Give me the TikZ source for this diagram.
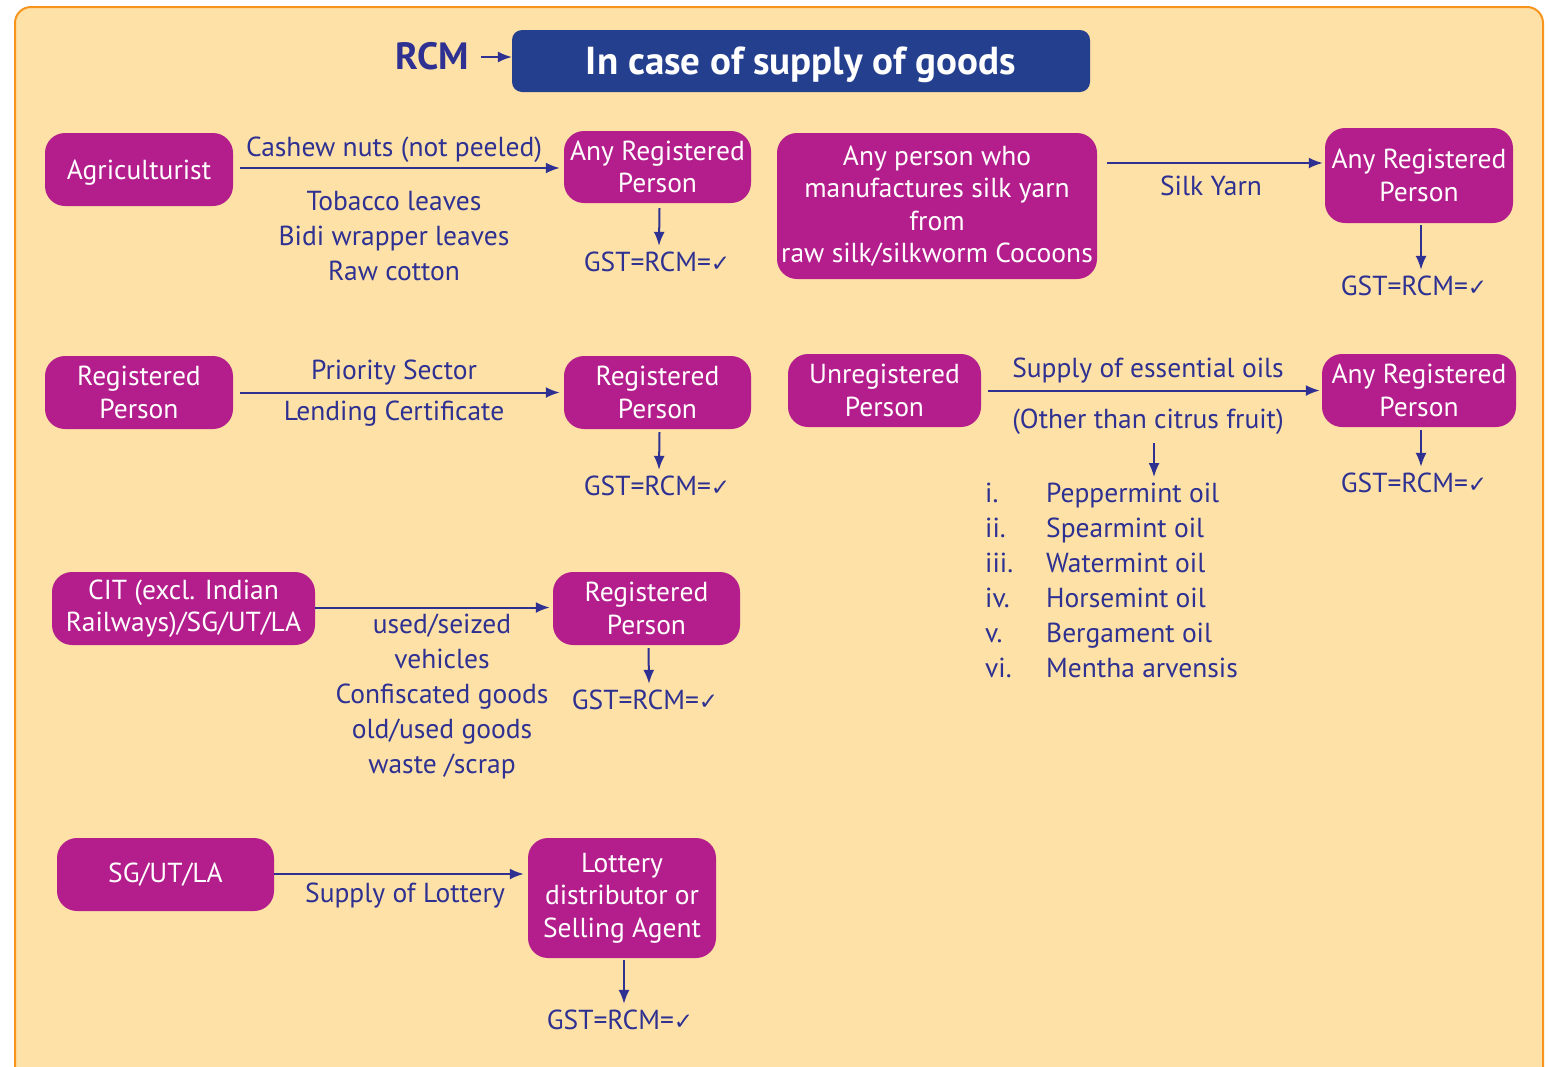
\documentclass[tikz,border=0pt]{standalone}
\usepackage{fontspec}
\setmainfont{PT Sans}
\newfontfamily\symfont{DejaVu Sans}
\usetikzlibrary{arrows.meta}
\definecolor{bgpeach}{HTML}{FDE1A7}
\definecolor{frameorange}{HTML}{F7941D}
\definecolor{boxmag}{HTML}{B41E8C}
\definecolor{titlenavy}{HTML}{253F8F}
\definecolor{inkblue}{HTML}{2E3192}
\newcommand{\tick}{{\symfont\fontsize{23}{26}\selectfont ✓}}
\tikzset{
  box/.style={fill=boxmag, rounded corners=20pt, text=white, align=center,
    inner sep=0pt, font=\fontsize{27.5}{32.5}\selectfont},
  lbl/.style={text=inkblue, align=center, inner sep=0pt,
    font=\fontsize{27.5}{35}\selectfont},
  gst/.style={text=inkblue, inner sep=0pt, font=\fontsize{27.5}{32}\selectfont},
  arr/.style={draw=inkblue, line width=2pt, -{Latex[length=14pt,width=11pt]}},
}
\begin{document}
\begin{tikzpicture}[x=1pt,y=-1pt]
\useasboundingbox (0,0) rectangle (1548,1066);
\clip (0,0) rectangle (1548,1066);
% panel
\draw[fill=bgpeach, draw=frameorange, line width=2pt, rounded corners=16pt]
  (15,7) rectangle (1543,1090);

% heading
\node[fill=titlenavy, rounded corners=10pt, minimum width=578, minimum height=62,
  inner sep=0pt, text depth=0pt, text=white, font=\fontsize{39}{42}\selectfont\bfseries]
  (title) at (801,61) {In case of supply of goods};
\node[text=inkblue, inner sep=0pt, font=\fontsize{38}{42}\selectfont\bfseries]
  (rcm) at (432,56) {RCM};
\draw[arr, line width=1.6pt] ([xshift=12]rcm.east |- 0,57) -- (title.west |- 0,57);

% row 1 left: agriculturist
\node[box, text depth=0pt, minimum width=188, minimum height=73] (agri) at (139,169.5) {Agriculturist};
\node[box, minimum width=187, minimum height=72] (arp1) at (657.5,167) {Any Registered\\Person};
\draw[arr] ([xshift=7,yshift=1.5]agri.east) -- ([xshift=-4,yshift=-1]arp1.west);
\node[lbl] (cashew) at (394,150) {Cashew nuts (not peeled)};
\node[lbl] (tobacco) at (394,236) {Tobacco leaves\\Bidi wrapper leaves\\Raw cotton};
\node[gst] (gst1) at (657,262) {GST=RCM=\tick};
\draw[arr] ([xshift=2,yshift=-5]arp1.south) -- ([xshift=2,yshift=6]gst1.north);

% row 1 right: silk yarn
\node[box, minimum width=320, minimum height=146] (silk) at (937,206)
  {Any person who\\manufactures silk yarn\\from\\raw silk/silkworm Cocoons};
\node[box, minimum width=188, minimum height=95] (arp2) at (1419,175.5) {Any Registered\\Person};
\draw[arr] ([xshift=10,yshift=43]silk.east) -- ([xshift=-2,yshift=12.5]arp2.west);
\node[lbl] (silkyarn) at (1211,186) {Silk Yarn};
\node[gst] (gst2) at (1414,286) {GST=RCM=\tick};
\draw[arr] ([xshift=2,yshift=-2]arp2.south) -- ([xshift=7,yshift=6]gst2.north);

% row 2 left: priority sector lending certificate
\node[box, minimum width=188, minimum height=73] (rp1) at (139,392.5) {Registered\\Person};
\node[box, minimum width=187, minimum height=73] (rp2) at (657.5,392.5) {Registered\\Person};
\draw[arr] ([xshift=7]rp1.east) -- ([xshift=-4]rp2.west);
\node[lbl] (psl1) at (394,373) {Priority Sector};
\node[lbl] (psl2) at (394,414) {Lending Certificate};
\node[gst] (gst3) at (657,486) {GST=RCM=\tick};
\draw[arr] ([xshift=2,yshift=-3]rp2.south) -- ([xshift=2,yshift=6]gst3.north);

% row 2 right: essential oils
\node[box, minimum width=193, minimum height=73] (urp) at (884.5,390.5) {Unregistered\\Person};
\node[box, minimum width=194, minimum height=73] (arp3) at (1419,390.5) {Any Registered\\Person};
\draw[arr] ([xshift=7]urp.east) -- ([xshift=-2]arp3.west);
\node[lbl] (oils) at (1148,371) {Supply of essential oils};
\node[lbl] (citrus) at (1148,422) {(Other than citrus fruit)};
\coordinate (listtop) at (1154,477);
\draw[arr, line width=1.6pt] ([xshift=6,yshift=-8]citrus.south) -- (listtop);
\node[lbl, align=left, anchor=north west] (nums) at (985,483)
  {i.\\ii.\\iii.\\iv.\\v.\\vi.};
\node[lbl, align=left, anchor=north west] (oillist) at (1046,483)
  {Peppermint oil\\Spearmint oil\\Watermint oil\\Horsemint oil\\Bergament oil\\Mentha arvensis};
\node[gst] (gst4) at (1414,483) {GST=RCM=\tick};
\draw[arr] ([xshift=2,yshift=-3]arp3.south) -- ([xshift=7,yshift=6]gst4.north);

% row 3: government supplies
\node[box, minimum width=263, minimum height=73] (cit) at (183.5,608.5) {CIT (excl. Indian\\Railways)/SG/UT/LA};
\node[box, minimum width=187, minimum height=73] (rp3) at (646.5,608.5) {Registered\\Person};
\draw[arr] ([yshift=1]cit.east) -- ([xshift=-3,yshift=1]rp3.west);
\node[lbl, anchor=north] (goods) at (442,614)
  {used/seized\\vehicles\\Confiscated goods\\old/used goods\\waste /scrap};
\node[gst] (gst5) at (645,700) {GST=RCM=\tick};
\draw[arr] ([xshift=2,yshift=-3]rp3.south) -- ([xshift=4,yshift=6]gst5.north);

% row 4: lottery
\node[box, minimum width=217, minimum height=73] (sg) at (165.5,874.5) {SG/UT/LA};
\node[box, minimum width=188, minimum height=120] (lot) at (622,898) {Lottery\\distributor or\\Selling Agent};
\draw[arr] ([yshift=0.5]sg.east) -- ([xshift=-4,yshift=24]lot.west);
\node[lbl] (lottery) at (405,896) {Supply of Lottery};
\node[gst] (gst6) at (620,1020) {GST=RCM=\tick};
\draw[arr] ([xshift=2,yshift=-2]lot.south) -- ([xshift=4,yshift=6]gst6.north);
\end{tikzpicture}
\end{document}
